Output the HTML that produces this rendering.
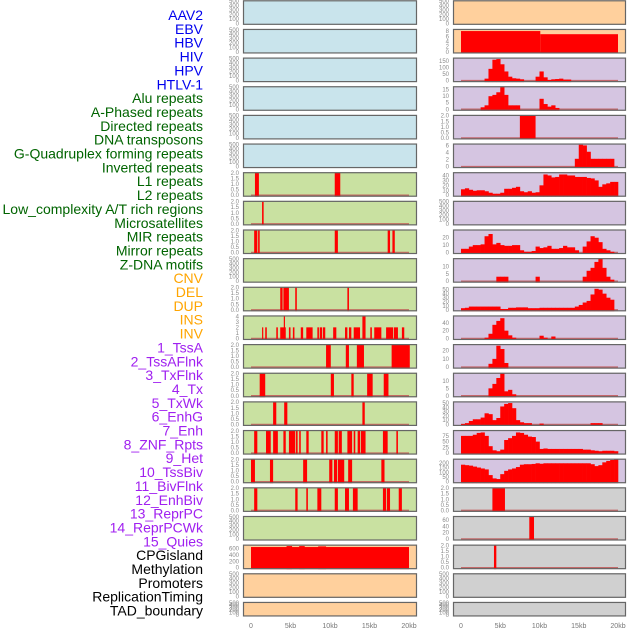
<!DOCTYPE html>
<html><head><meta charset="utf-8"><style>
body{margin:0;background:#fff;width:630px;height:630px;overflow:hidden}
svg{display:block;font-family:"Liberation Sans",sans-serif}
</style></head><body>
<svg id="c" width="630" height="630" xmlns="http://www.w3.org/2000/svg"></svg>
<script>
// ---- data ----
const labels=["AAV2","EBV","HBV","HIV","HPV","HTLV-1","Alu repeats","A-Phased repeats","Directed repeats","DNA transposons","G-Quadruplex forming repeats","Inverted repeats","L1 repeats","L2 repeats","Low_complexity A/T rich regions","Microsatellites","MIR repeats","Mirror repeats","Z-DNA motifs","CNV","DEL","DUP","INS","INV","1_TssA","2_TssAFlnk","3_TxFlnk","4_Tx","5_TxWk","6_EnhG","7_Enh","8_ZNF_Rpts","9_Het","10_TssBiv","11_BivFlnk","12_EnhBiv","13_ReprPC","14_ReprPCWk","15_Quies","CPGisland","Methylation","Promoters","ReplicationTiming","TAD_boundary"];
const labelGroups=["v","v","v","v","v","v","r","r","r","r","r","r","r","r","r","r","r","r","r","o","o","o","o","o","p","p","p","p","p","p","p","p","p","p","p","p","p","p","p","k","k","k","k","k"];
const xTickLabels=["0","5kb","10kb","15kb","20kb"];
const xTickValues=[0,5,10,15,20];
const leftBg=["b","b","b","b","b","b","g","g","g","g","g","g","g","g","g","g","g","g","g","o","o","o"];
const rightBg=["o","o","p","p","p","p","p","p","p","p","p","p","p","p","p","p","p","gr","gr","gr","gr","gr"];
// left segments [startKb,endKb,value]
const leftSegs={
6:[[0.5,1.0,2],[10.6,11.3,2]],
7:[[1.4,1.6,2]],
8:[[0.4,0.8,2],[0.9,1.1,2],[10.6,11.0,2],[17.3,17.6,2],[17.9,18.2,2]],
10:[[3.7,4.0,2],[4.1,4.8,2],[5.6,5.8,2],[12.2,12.4,2]],
11:[[1.4,1.55,2],[1.8,2.0,2],[3.2,3.4,2],[3.7,4.4,2],[4.15,4.25,4],[4.8,5.0,2],[5.3,5.5,2],[6.3,6.6,2],[7.0,7.8,2],[8.4,8.6,2],[8.7,9.0,2],[9.1,9.4,2],[10.4,10.8,2],[11.9,12.2,2],[12.4,12.7,2],[13.0,13.8,2],[14.1,14.5,4],[15.1,15.3,2],[15.6,16.5,2],[17.1,18.0,2],[18.1,18.6,2],[19.1,19.4,2]],
12:[[9.5,10.1,2],[12.0,12.4,2],[13.4,14.3,2],[17.8,20.1,2]],
13:[[1.1,1.8,2],[10.1,10.5,2],[12.7,13.0,2],[14.7,15.4,2],[16.8,17.4,2]],
14:[[2.8,3.2,2],[4.2,4.6,2],[14.1,14.4,2]],
15:[[0.4,0.8,2],[1.9,2.5,2],[2.8,3.4,2],[4.1,4.4,2],[4.8,5.6,2],[5.7,5.9,2],[6.1,6.3,2],[7.0,7.3,2],[8.9,9.2,2],[9.5,9.7,2],[10.6,11.0,2],[11.1,11.5,2],[12.2,12.8,2],[13.0,13.2,2],[13.5,13.8,2],[13.9,14.5,2],[16.7,17.3,2],[18.4,18.6,2]],
16:[[0,0.5,2],[2.4,2.8,2],[6.6,7.1,2],[9.9,10.3,2],[10.5,10.9,2],[11.0,11.8,2],[12.3,12.8,2],[16.5,16.9,2]],
17:[[0.4,0.8,2],[5.6,5.9,2],[7.0,7.2,2],[8.4,8.9,2],[10.6,11.0,2],[11.9,12.4,2],[12.9,13.5,2],[16.7,17.1,2],[17.2,17.6,2],[18.7,19.1,2]],
19:[[0,20,650],[4.5,5.2,680],[6.1,6.8,680],[8.5,9.5,670]]
};
const leftMax={6:2,7:2,8:2,10:2,11:4,12:2,13:2,14:2,15:2,16:2,17:2,19:700};
const leftTicks={6:[0,0.5,1,1.5,2],7:[0,0.5,1,1.5,2],8:[0,0.5,1,1.5,2],10:[0,0.5,1,1.5,2],11:[0,1,2,3,4],12:[0,0.5,1,1.5,2],13:[0,0.5,1,1.5,2],14:[0,0.5,1,1.5,2],15:[0,0.5,1,1.5,2],16:[0,0.5,1,1.5,2],17:[0,0.5,1,1.5,2],19:[0,200,400,600]};
// right segments / histogram values (0.5kb bins)
const rightSegs={1:[[0,10.1,8],[10.1,20,6.8]],4:[[7.5,9.5,2]],17:[[4.0,5.6,2]],18:[[8.7,9.3,70]],19:[[4.2,4.5,2]]};
const rightBins={
2:[0,0,0,0,0,0,15,90,160,165,125,70,30,18,15,10,0,0,0,30,70,25,5,10,12,15,8,8,0,0,0,0,0,0,0,0,0,0,0,0],
3:[0,0,0,0,0,1.5,3,10,11,13,17,11,3,3,3,0,0,0,0,0,8,4,2,3,1,0,0,0,0,0,0,0,0,0,0,0,0,0,0,0],
5:[0,0,0,0,0,0,0,0,0,0,0,0,0,0,0,0,0,0,0,0,0,0,0,0,0,0,0,0,0,2.2,6.2,6,4.2,2.2,2.2,2.2,2.2,2.2,2.2,0],
6:[12,14,11,9,10,10,8,5,3,3,5,13,13,15,17,8,6,8,5,6,20,42,40,36,37,42,42,40,40,37,37,37,35,34,30,17,22,24,27,27],
8:[5,5,8,10,10,11,22,25,11,13,10,9,9,10,10,3,1,1,2,8,6,7,9,5,5,6,9,7,7,3,0,8,15,22,20,14,5,3,1,0],
9:[0,0,0,0,0,0,0,0,0,3,3,3,0,0,0,0,0,0,0,3,0,0,0,0,0,0,0,0,0,0,0,3,7,9,13,15,9,3,1,0],
10:[4,5,8,8,8,8,8,8,8,8,2,2,5,5,6,6,6,4,4,4,5,5,5,5,5,5,5,5,5,8,12,18,22,38,52,50,40,30,25,0],
11:[0,0,0,0,0,0,2,12,35,45,52,20,8,2,0,0,0,0,0,0,7,2,0,5,0,0,0,0,0,0,0,0,0,0,0,0,0,0,0,0],
12:[0,0,0,0,0,0,0,4,10,26,22,5,0,0,0,0,0,0,0,0,0,0,0,0,0,0,0,0,0,0,0,0,0,0,0,0,0,0,0,0],
13:[0,0,0,0,0,0,0,5,8,12,15,3,4,1,0,0,0,0,0,0,0,0,0,0,0,0,0,0,0,0,0,0,0,0,0,0,0,0,0,0],
14:[1,3,8,12,12,16,26,24,10,15,42,48,50,38,10,5,3,3,0,0,2,0,0,0,0,0,0,0,0,0,0,0,0,3,3,3,0,0,0,0],
15:[75,75,75,80,88,90,75,30,12,8,15,57,65,75,90,88,80,72,70,50,18,20,18,18,18,18,18,18,18,18,18,15,15,12,10,8,10,10,10,8],
16:[180,175,170,160,150,140,130,70,35,28,80,115,130,140,155,180,185,185,188,195,190,195,195,195,195,195,195,195,195,195,195,195,195,185,165,175,205,220,230,235]
};
const rightMax={1:8.5,2:170,3:17,4:2,5:6.3,6:45,8:30,9:15,10:55,11:57,12:27,13:15,14:52,15:97,16:235,17:2,18:70,19:2};
const rightTicks={1:[0,2,4,6,8],2:[0,50,100,150],3:[0,5,10,15],4:[0,0.5,1,1.5,2],5:[0,2,4,6],6:[0,10,20,30,40],8:[0,10,20],9:[0,5,10],10:[0,10,20,30,40,50],11:[0,20,40],12:[0,10,20],13:[0,5,10],14:[0,10,20,30,40,50],15:[0,25,50,75],16:[0,50,100,150,200],17:[0,0.5,1,1.5,2],18:[0,20,40,60],19:[0,0.5,1,1.5,2]};
const emptyTicks=[0,100,200,300,400,500];

// ---- drawing ----
const svg=document.getElementById('c');
const NS='http://www.w3.org/2000/svg';
function mk(t,a,p){const e=document.createElementNS(NS,t);for(const k in a)e.setAttribute(k,a[k]);(p||svg).appendChild(e);return e;}
const colMap={v:"#0000ee",r:"#006400",o:"#ffa500",p:"#a020f0",k:"#000"};
const bgMap={b:"#c9e4ec",g:"#c9e1a1",o:"#ffd09d",p:"#d5c5e1",gr:"#d0d0d0"};
labels.forEach((l,i)=>{
  const t=mk('text',{x:203,y:20+i*13.85,'text-anchor':'end','font-size':14,fill:colMap[labelGroups[i]]});
  t.textContent=l;
  
  
});
const cols=[{x0:243,x1:417,a:251,s:7.9,bg:leftBg,segs:leftSegs,bins:{},mx:leftMax,tk:leftTicks,side:'left'},
            {x0:453,x1:626,a:461,s:7.85,bg:rightBg,segs:rightSegs,bins:rightBins,mx:rightMax,tk:rightTicks,side:'right'}];
function fmt(v,ticks){return ticks.some(t=>t%1!==0)?v.toFixed(1):String(v);}
cols.forEach(c=>{
  const xs=kb=>c.a+kb*c.s;
  for(let r=0;r<22;r++){
    const top=0.3+28.65*r, h=(r===21?14.5:24.5), bot=top+h;
    const g=mk('g',{});
    
    
    mk('rect',{x:c.x0,y:top,width:c.x1-c.x0,height:h,fill:bgMap[c.bg[r]]},g);
    const has=c.mx[r]!==undefined;
    const mx=has?c.mx[r]:500, ticks=has?c.tk[r]:emptyTicks;
    const y0=bot-1.5, y1=top+0.8;
    const ys=v=>y0-(v/mx)*(y0-y1);
    if(has){
      mk('line',{x1:xs(0),x2:xs(20),y1:bot-1.2,y2:bot-1.2,stroke:'#c05050','stroke-width':2,opacity:0.8},g);
      (c.segs[r]||[]).forEach(s=>{
        const b=mk('rect',{x:xs(s[0]),y:ys(s[2]),width:Math.max(1.2,xs(s[1])-xs(s[0])),height:bot-ys(s[2]),fill:'#ff0000'},g);
        
        
      });
      (c.bins[r]||[]).forEach((v,i)=>{
        if(v<=0)return;
        const b=mk('rect',{x:xs(i*0.5),y:ys(v),width:xs(0.5)-xs(0)+0.3,height:bot-ys(v),fill:'#ff0000'},g);
        
        
      });
    }
    mk('rect',{x:c.x0+0.5,y:top+0.5,width:c.x1-c.x0-1,height:h-1,fill:'none',stroke:'#666','stroke-width':1.2},g);
    ticks.forEach(t=>{
      const tx=mk('text',{x:c.x0-4,y:ys(t)+2,'text-anchor':'end','font-size':6,fill:'#8a8a8a'},g);
      tx.textContent=fmt(t,ticks);
    });
  }
  xTickValues.forEach((v,i)=>{
    const t=mk('text',{x:xs(v),y:628,'text-anchor':'middle','font-size':7,fill:'#777'});
    t.textContent=xTickLabels[i];
    
    
  });
});
</script>
</body></html>
